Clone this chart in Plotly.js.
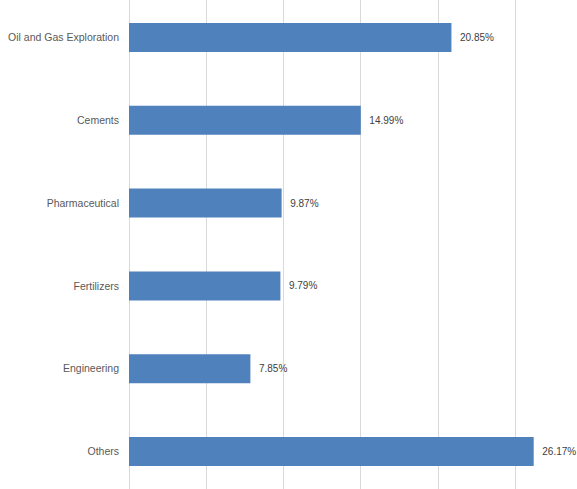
<!DOCTYPE html>
<html>
<head>
<meta charset="utf-8">
<script src="https://cdn.plot.ly/plotly-3.0.1.min.js"></script>
<style>html,body{margin:0;padding:0;background:#fff;}#chart{width:577px;height:489px;}</style>
</head>
<body>
<div id="chart"></div>
<script>
var categories = ["Oil and Gas Exploration", "Cements", "Pharmaceutical", "Fertilizers", "Engineering", "Others"];
var values = [20.85, 14.99, 9.87, 9.79, 7.85, 26.17];
var xTicks = [0, 5, 10, 15, 20, 25];

var trace = {
  type: "bar",
  orientation: "h",
  y: categories,
  x: values,
  width: 0.35,
  marker: {color: "#4F81BD", line: {width: 0}},
  text: values.map(function(v){ return "  " + v.toFixed(2) + "%"; }),
  textposition: "outside",
  cliponaxis: false,
  textfont: {family: "Liberation Sans, Arial, sans-serif", size: 10, color: "#404040"},
  hoverinfo: "none"
};

var layout = {
  width: 577, height: 489,
  margin: {l: 129, r: 0, t: 0, b: 0},
  paper_bgcolor: "#ffffff", plot_bgcolor: "#ffffff",
  showlegend: false,
  bargap: 0.65,
  xaxis: {
    range: [0, 28.97],
    tickvals: xTicks,
    showticklabels: false,
    showgrid: true, gridcolor: "#d9d9d9", gridwidth: 1,
    zeroline: true, zerolinecolor: "#d9d9d9", zerolinewidth: 1,
    showline: false, fixedrange: true
  },
  yaxis: {
    type: "category",
    range: [5.453, -0.453],
    showgrid: false, zeroline: false, showline: false,
    ticks: "", ticklabelstandoff: 9,
    tickfont: {family: "Liberation Sans, Arial, sans-serif", size: 10.5, color: "#595959"},
    fixedrange: true
  }
};

Plotly.newPlot("chart", [trace], layout, {staticPlot: true, displayModeBar: false});
</script>
</body>
</html>
